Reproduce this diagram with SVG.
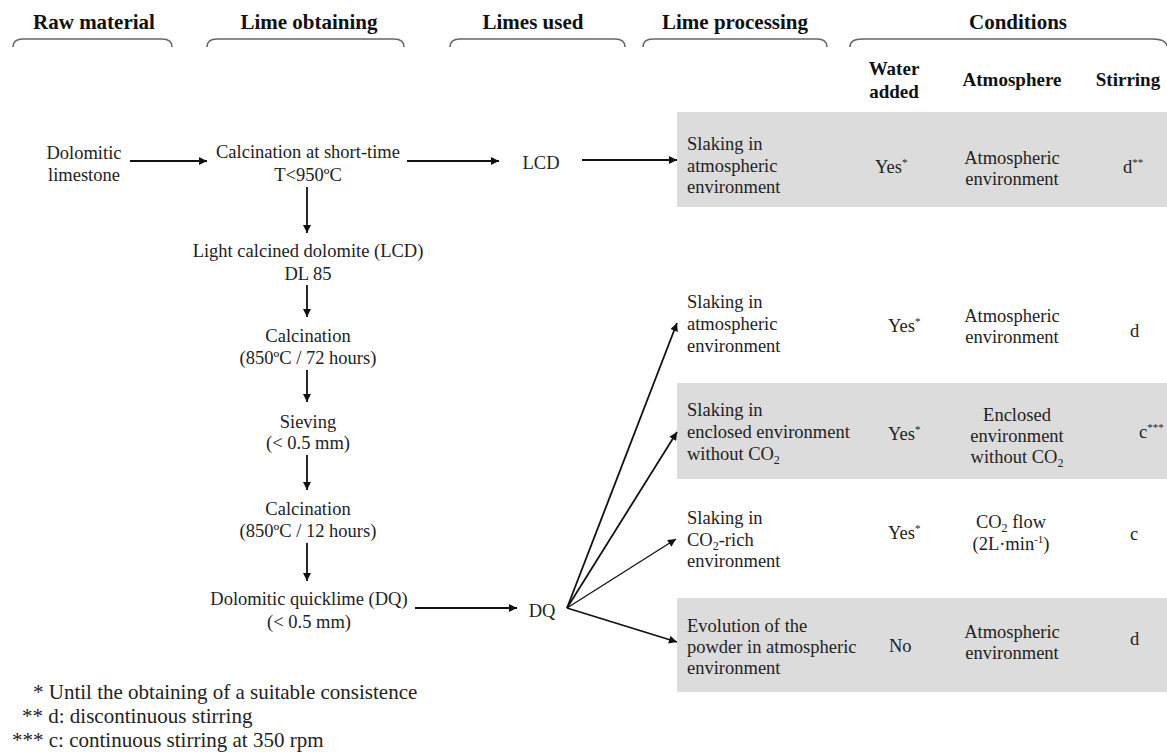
<svg xmlns="http://www.w3.org/2000/svg" width="1167" height="752" viewBox="0 0 1167 752" font-family="'Liberation Serif', 'Times New Roman', 'DejaVu Serif', serif">
<defs>
<marker id="ah" viewBox="0 0 10 10" refX="10" refY="5" markerWidth="9" markerHeight="8" markerUnits="userSpaceOnUse" orient="auto"><path d="M0,0 L10,5 L0,10 Z" fill="#111"/></marker>
<style>
text{fill:#222}
.b{font-size:18.5px}
.c{text-anchor:middle}
.h{font-size:21px;font-weight:bold;text-anchor:middle;fill:#111}
.sh{font-size:19px;font-weight:bold;text-anchor:middle;fill:#111}
.fn{font-size:21px}
.brace{fill:none;stroke:#666;stroke-width:1.6}
.row{fill:#dcdcdc}
.con line{stroke:#111;stroke-width:1.8;marker-end:url(#ah)}
.sup{font-size:11px}
.sub{font-size:12px}
</style>
</defs>
<rect width="1167" height="752" fill="#fff"/>
<g id="headers">
<text class="h" x="94" y="29">Raw material</text>
<text class="h" x="309" y="29">Lime obtaining</text>
<text class="h" x="533" y="29">Limes used</text>
<text class="h" x="735" y="29">Lime processing</text>
<text class="h" x="1018" y="29">Conditions</text>
<path class="brace" d="M13,47 Q13,39 23,39 L162,39 Q172,39 172,47"/>
<path class="brace" d="M207,47 Q207,39 217,39 L394,39 Q404,39 404,47"/>
<path class="brace" d="M450,47 Q450,39 460,39 L615,39 Q625,39 625,47"/>
<path class="brace" d="M643,47 Q643,39 653,39 L817,39 Q827,39 827,47"/>
<path class="brace" d="M850,47 Q850,39 862,39 L1152,39 Q1166,39 1167,46"/>
<text class="sh" x="894" y="75">Water</text>
<text class="sh" x="894" y="98">added</text>
<text class="sh" x="1012" y="86">Atmosphere</text>
<text class="sh" x="1128" y="86">Stirring</text>
</g>
<g id="rows">
<rect class="row" x="677" y="112" width="490" height="95"/>
<rect class="row" x="677" y="383" width="490" height="96"/>
<rect class="row" x="677" y="598" width="490" height="94"/>
</g>
<g id="dolomitic-limestone"><text class="b c" x="84" y="159">Dolomitic</text><text class="b c" x="84" y="181">limestone</text></g>
<g id="calcination-short"><text class="b c" x="308" y="158">Calcination at short-time</text><text class="b c" x="308" y="181">T&lt;950ºC</text></g>
<g id="lcd-light"><text class="b c" x="308" y="257">Light calcined dolomite (LCD)</text><text class="b c" x="308" y="280">DL 85</text></g>
<g id="calcination-72"><text class="b c" x="308" y="342">Calcination</text><text class="b c" x="308" y="364">(850ºC / 72 hours)</text></g>
<g id="sieving"><text class="b c" x="308" y="428">Sieving</text><text class="b c" x="308" y="449">(&lt; 0.5 mm)</text></g>
<g id="calcination-12"><text class="b c" x="308" y="515">Calcination</text><text class="b c" x="308" y="537">(850ºC / 12 hours)</text></g>
<g id="dq-quicklime"><text class="b c" x="309" y="605">Dolomitic quicklime (DQ)</text><text class="b c" x="309" y="628">(&lt; 0.5 mm)</text></g>
<g id="lcd"><text class="b c" x="541" y="169">LCD</text></g>
<g id="dq"><text class="b c" x="542" y="617">DQ</text></g>
<g id="row1">
<text class="b" x="687" y="150">Slaking in</text><text class="b" x="687" y="172">atmospheric</text><text class="b" x="687" y="193">environment</text>
<text class="b" x="875" y="173">Yes<tspan class="sup" dy="-7">*</tspan></text>
<text class="b c" x="1012" y="164">Atmospheric</text><text class="b c" x="1012" y="185">environment</text>
<text class="b" x="1123" y="173">d<tspan class="sup" dy="-7">**</tspan></text>
</g>
<g id="row2">
<text class="b" x="687" y="308">Slaking in</text><text class="b" x="687" y="330">atmospheric</text><text class="b" x="687" y="352">environment</text>
<text class="b" x="888" y="332">Yes<tspan class="sup" dy="-7">*</tspan></text>
<text class="b c" x="1012" y="322">Atmospheric</text><text class="b c" x="1012" y="343">environment</text>
<text class="b" x="1130" y="337">d</text>
</g>
<g id="row3">
<text class="b" x="687" y="416">Slaking in</text><text class="b" x="687" y="438">enclosed environment</text><text class="b" x="687" y="460">without CO<tspan class="sub" dy="4">2</tspan></text>
<text class="b" x="888" y="440">Yes<tspan class="sup" dy="-7">*</tspan></text>
<text class="b c" x="1017" y="421">Enclosed</text><text class="b c" x="1017" y="442">environment</text><text class="b c" x="1017" y="463">without CO<tspan class="sub" dy="4">2</tspan></text>
<text class="b" x="1139" y="438">c<tspan class="sup" dy="-7">***</tspan></text>
</g>
<g id="row4">
<text class="b" x="687" y="524">Slaking in</text><text class="b" x="687" y="546">CO<tspan class="sub" dy="4">2</tspan><tspan dy="-4">-rich</tspan></text><text class="b" x="687" y="567">environment</text>
<text class="b" x="888" y="539">Yes<tspan class="sup" dy="-7">*</tspan></text>
<text class="b c" x="1011" y="528">CO<tspan class="sub" dy="4">2</tspan><tspan dy="-4"> flow</tspan></text>
<text class="b c" x="1011" y="550">(2L·min<tspan class="sup" dy="-7">-1</tspan><tspan dy="7">)</tspan></text>
<text class="b" x="1130" y="540">c</text>
</g>
<g id="row5">
<text class="b" x="687" y="632">Evolution of the</text><text class="b" x="687" y="653">powder in atmospheric</text><text class="b" x="687" y="674">environment</text>
<text class="b" x="889" y="652">No</text>
<text class="b c" x="1012" y="638">Atmospheric</text><text class="b c" x="1012" y="659">environment</text>
<text class="b" x="1130" y="645">d</text>
</g>
<g id="connectors" class="con">
<line x1="130" y1="161" x2="207" y2="161"/>
<line x1="407" y1="161" x2="499" y2="161"/>
<line x1="582" y1="160" x2="677" y2="160"/>
<line x1="307" y1="187" x2="307" y2="233"/>
<line x1="307" y1="285" x2="307" y2="317"/>
<line x1="307" y1="370" x2="307" y2="402"/>
<line x1="307" y1="455" x2="307" y2="490"/>
<line x1="307" y1="543" x2="307" y2="581"/>
<line x1="415" y1="608" x2="517" y2="608"/>
<line x1="567" y1="608" x2="677" y2="323"/>
<line x1="567" y1="608" x2="677" y2="432"/>
<line x1="567" y1="608" x2="676" y2="539" style="stroke-width:1.3"/>
<line x1="567" y1="608" x2="677" y2="642"/>
</g>
<g id="footnotes">
<text class="fn" x="33" y="699">* Until the obtaining of a suitable consistence</text>
<text class="fn" x="22" y="723">** d: discontinuous stirring</text>
<text class="fn" x="12" y="747">*** c: continuous stirring at 350 rpm</text>
</g>
</svg>
